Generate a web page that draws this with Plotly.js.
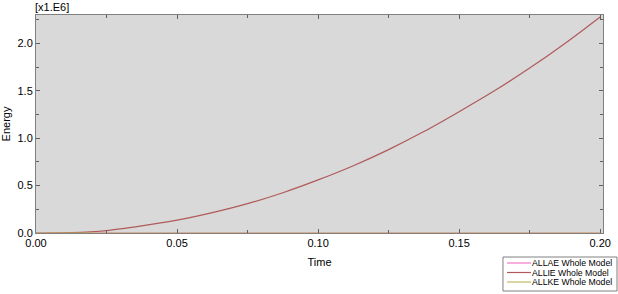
<!DOCTYPE html>
<html><head><meta charset="utf-8">
<script src="https://cdn.plot.ly/plotly-3.0.1.min.js"></script>
<style>html,body{margin:0;padding:0;background:#fff;}#chart{width:618px;height:294px;}</style>
</head><body><div id="chart"></div>
<script>
// Time values (s)
const timeAllie = [0, 0.0125, 0.025, 0.0375, 0.05, 0.0625, 0.075, 0.0875, 0.1, 0.1125, 0.125, 0.1375, 0.15, 0.1625, 0.175, 0.1875, 0.2];
// ALLIE energy (x1.E6)
const allie = [0, 0.003, 0.025, 0.075, 0.135, 0.215, 0.31, 0.425, 0.56, 0.71, 0.88, 1.07, 1.28, 1.50, 1.74, 2.00, 2.28];
const timeZero = [0, 0.2];
const allae = [0, 0];
const allke = [0, 0];
const seriesNames = ["ALLAE Whole Model", "ALLIE Whole Model", "ALLKE Whole Model"];
const seriesColors = ['#f07ac8', '#b05a5a', '#c0b860'];
const xTicks = [0, 0.05, 0.10, 0.15, 0.20];
const xTickText = ["0.00", "0.05", "0.10", "0.15", "0.20"];
const yTicks = [0, 0.5, 1.0, 1.5, 2.0];
const yTickText = ["0.0", "0.5", "1.0", "1.5", "2.0"];

const traces = [
  {x: timeZero, y: allae, name: seriesNames[0], mode: 'lines', line: {color: seriesColors[0], width: 1.2}},
  {x: timeAllie, y: allie, name: seriesNames[1], mode: 'lines', line: {color: seriesColors[1], width: 1.2, shape: 'spline', smoothing: 0.8}},
  {x: timeZero, y: allke, name: seriesNames[2], mode: 'lines', line: {color: seriesColors[2], width: 1.2}}
];
const axisFont = {family: 'Liberation Sans, Arial, sans-serif', size: 11, color: '#000'};
const legFont = {family: 'Liberation Sans, Arial, sans-serif', size: 8.7, color: '#000'};

// manual legend (box, sample lines, labels) in paper coordinates
const shapes = [{type: 'rect', xref: 'paper', yref: 'paper', x0: 0.8236, x1: 1.0247, y0: -0.1101, y1: -0.2661,
                 line: {color: '#808080', width: 1}, fillcolor: '#ffffff', layer: 'above'}];
const annotations = [{text: '[x1.E6]', xref: 'paper', yref: 'paper', x: -0.006, y: 1.0, xanchor: 'left', yanchor: 'bottom',
                      showarrow: false, font: axisFont}];
const legY = [-0.1376, -0.1812, -0.2248];
seriesNames.forEach((n, i) => {
  shapes.push({type: 'line', xref: 'paper', yref: 'paper', x0: 0.8307, x1: 0.8730, y0: legY[i], y1: legY[i],
               line: {color: seriesColors[i], width: 1.2}, layer: 'above'});
  annotations.push({text: n, xref: 'paper', yref: 'paper', x: 0.8735, y: legY[i], xanchor: 'left', yanchor: 'middle',
                    showarrow: false, font: legFont, borderpad: 0});
});

const layout = {
  width: 618, height: 294,
  margin: {l: 36, r: 15, t: 15, b: 61, pad: 0},
  paper_bgcolor: '#ffffff', plot_bgcolor: '#d9d9d9',
  showlegend: false,
  xaxis: {range: [0, 0.201], tickvals: xTicks, ticktext: xTickText, ticks: 'inside', ticklen: 4,
          tickcolor: '#606060', showgrid: false, zeroline: false, showline: true, linecolor: '#808080',
          linewidth: 1, mirror: 'ticks', tickfont: axisFont, automargin: false,
          minor: {dtick: 0.025, ticks: 'inside', ticklen: 3, tickcolor: '#606060', showgrid: false},
          title: {text: 'Time', font: axisFont, standoff: 10}},
  yaxis: {range: [0, 2.30], tickvals: yTicks, ticktext: yTickText, ticks: 'inside', ticklen: 4,
          tickcolor: '#606060', showgrid: false, zeroline: false, showline: true, linecolor: '#808080',
          linewidth: 1, mirror: 'ticks', tickfont: axisFont, automargin: false,
          minor: {dtick: 0.25, ticks: 'inside', ticklen: 3, tickcolor: '#606060', showgrid: false},
          title: {text: 'Energy', font: axisFont, standoff: 4}},
  shapes: shapes,
  annotations: annotations
};
Plotly.newPlot('chart', traces, layout, {displayModeBar: false, staticPlot: true});
</script></body></html>
